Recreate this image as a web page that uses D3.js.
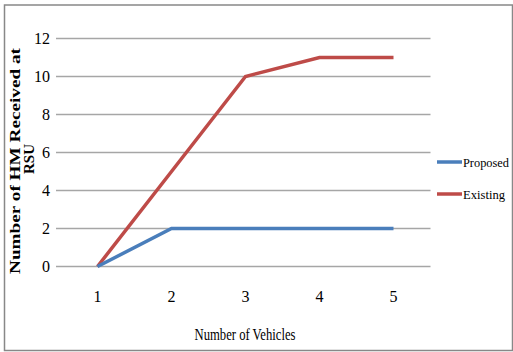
<!DOCTYPE html>
<html>
<head>
<meta charset="utf-8">
<script src="https://cdn.jsdelivr.net/npm/d3@7"></script>
<style>
body{margin:0;background:#fff;}
text{font-family:"Liberation Serif","Times New Roman",serif;fill:#000;}
.grid line{stroke:#a6a6a6;stroke-width:1.5;}
.Proposedline{fill:none;stroke:#4a7ebb;stroke-width:3.5;}
.Existingline{fill:none;stroke:#be4b48;stroke-width:3.5;}
</style>
</head>
<body>
<svg id="chart"></svg>
<script>
// data
var vehicles = [1,2,3,4,5];
var proposed = [0,2,2,2,2];
var existing = [0,5,10,11,11];
var yTicks = [0,2,4,6,8,10,12];
var seriesNames = ["Proposed","Existing"];

var screen = {width:513,height:352}
var margins = {left:60.5,right:82.5,top:38.5,bottom:85.5}

var graph =
    {
        width:screen.width-margins.left-margins.right,
        height:screen.height-margins.top-margins.bottom
    }

var svg = d3.select("#chart")
    .attr("width",screen.width)
    .attr("height",screen.height)

// outer frame
svg.append("rect")
    .attr("x",4.5)
    .attr("y",5)
    .attr("width",508)
    .attr("height",345.5)
    .attr("fill","none")
    .attr("stroke","#888")
    .attr("stroke-width",1.5)

var xScale = d3.scalePoint()
    .domain(vehicles)
    .range([margins.left,margins.left+graph.width])
    .padding(0.5)

var yScale = d3.scaleLinear()
    .domain([0,12])
    .range([margins.top+graph.height,margins.top])

var drawGrid = function(){
    var grid = svg.append("g").attr("class","grid")
    grid.selectAll("line")
        .data(yTicks)
        .enter()
        .append("line")
        .attr("x1",margins.left-4.5)
        .attr("x2",margins.left+graph.width)
        .attr("y1",function(d){return yScale(d)})
        .attr("y2",function(d){return yScale(d)})

    svg.append("g").selectAll("text")
        .data(yTicks)
        .enter()
        .append("text")
        .text(function(d){return d})
        .attr("x",50)
        .attr("y",function(d){return yScale(d)+5.5})
        .attr("text-anchor","end")
        .attr("font-size",16)

    svg.append("g").selectAll("text")
        .data(vehicles)
        .enter()
        .append("text")
        .text(function(d){return d})
        .attr("x",function(d){return xScale(d)})
        .attr("y",302)
        .attr("text-anchor","middle")
        .attr("font-size",16)
}

var drawLine = function(values,cls){
    var lineGenerator = d3.line()
        .x(function(d,i){return xScale(vehicles[i])})
        .y(function(d){return yScale(d)})
    svg.append("path")
        .datum(values)
        .attr("class",cls)
        .attr("d",lineGenerator)
}

var drawLabels = function(){
    svg.append("text")
        .text("Number of Vehicles")
        .attr("x",245)
        .attr("y",339.5)
        .attr("text-anchor","middle")
        .attr("font-size",16)
        .attr("textLength",101)
        .attr("lengthAdjust","spacingAndGlyphs")

    var ytitle = svg.append("g")
        .attr("transform","translate(20,161) rotate(-90)")
    ytitle.append("text")
        .text("Number of HM Received at")
        .attr("text-anchor","middle")
        .attr("font-weight","bold")
        .attr("font-size",15)
        .attr("textLength",226)
        .attr("lengthAdjust","spacingAndGlyphs")
    ytitle.append("text")
        .text("RSU")
        .attr("x",2)
        .attr("y",13.5)
        .attr("text-anchor","middle")
        .attr("font-weight","bold")
        .attr("font-size",15)
}

var drawLegend = function(){
    var legend = svg.append("g")
    var classes = ["Proposedline","Existingline"]
    var ys = [162,194]
    seriesNames.forEach(function(name,i){
        legend.append("line")
            .attr("class",classes[i])
            .attr("x1",437)
            .attr("x2",462)
            .attr("y1",ys[i])
            .attr("y2",ys[i])
        legend.append("text")
            .text(name)
            .attr("x",463)
            .attr("y",ys[i]+4.5)
            .attr("font-size",13)
            .attr("textLength",i==0?46:42)
            .attr("lengthAdjust","spacingAndGlyphs")
    })
}

drawGrid()
drawLine(existing,"Existingline")
drawLine(proposed,"Proposedline")
drawLabels()
drawLegend()
</script>
</body>
</html>
